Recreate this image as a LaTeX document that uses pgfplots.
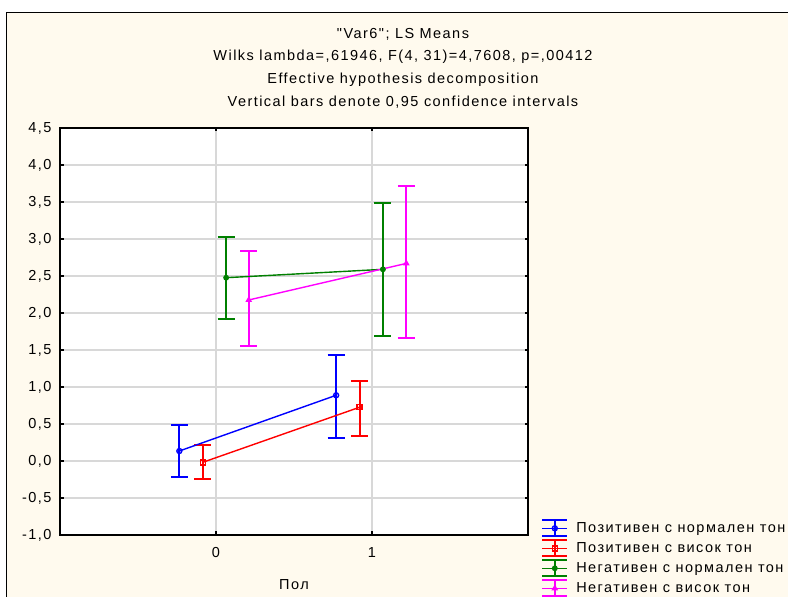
\documentclass[border=0pt]{standalone}
\usepackage{pgfplots}
\pgfplotsset{compat=1.18}
\usepackage{fontspec}
\setmainfont{Liberation Sans}
\newfontfamily\lsp[LetterSpace=10]{Liberation Sans}
\definecolor{bgc}{RGB}{255,250,238}
\definecolor{gridc}{RGB}{216,216,216}
\definecolor{dgreen}{RGB}{0,128,0}
\definecolor{mag}{RGB}{255,0,255}
\newcommand{\tf}{\lsp\fontsize{14.5}{16}\selectfont}

% means
\pgfplotstableread{
x y
-0.235 0.135
0.77 0.888
}\blue
\pgfplotstableread{
x y
-0.085 -0.018
0.92 0.726
}\red
\pgfplotstableread{
x y
0.065 2.477
1.07 2.590
}\green
\pgfplotstableread{
x y
0.21 2.176
1.22 2.670
}\magenta
% 0.95 confidence intervals: whisker and caps (cap half-width 0.0545)
\pgfplotstableread{
x y
-0.235 -0.216
-0.235 0.490
nan nan
-0.2895 -0.216
-0.1805 -0.216
nan nan
-0.2895 0.490
-0.1805 0.490
nan nan
0.77 0.315
0.77 1.432
nan nan
0.7155 0.315
0.8245 0.315
nan nan
0.7155 1.432
0.8245 1.432
}\blueci
\pgfplotstableread{
x y
-0.085 -0.243
-0.085 0.212
nan nan
-0.1395 -0.243
-0.0305 -0.243
nan nan
-0.1395 0.212
-0.0305 0.212
nan nan
0.92 0.342
0.92 1.077
nan nan
0.8655 0.342
0.9745 0.342
nan nan
0.8655 1.077
0.9745 1.077
}\redci
\pgfplotstableread{
x y
0.065 1.915
0.065 3.027
nan nan
0.0105 1.915
0.1195 1.915
nan nan
0.0105 3.027
0.1195 3.027
nan nan
1.07 1.693
1.07 3.490
nan nan
1.0155 1.693
1.1245 1.693
nan nan
1.0155 3.490
1.1245 3.490
}\greenci
\pgfplotstableread{
x y
0.21 1.558
0.21 2.833
nan nan
0.1555 1.558
0.2645 1.558
nan nan
0.1555 2.833
0.2645 2.833
nan nan
1.22 1.662
1.22 3.720
nan nan
1.1655 1.662
1.2745 1.662
nan nan
1.1655 3.720
1.2745 3.720
}\magentaci

\begin{document}
\begin{tikzpicture}
\useasboundingbox (0pt,0pt) rectangle (788pt,597pt);
\fill[white] (0pt,0pt) rectangle (788pt,597pt);
\fill[bgc] (6pt,0pt) rectangle (790pt,585pt);
\draw[black, line width=1.4pt] (6.7pt,-2pt) -- (6.7pt,584.3pt) -- (790pt,584.3pt);
\begin{scope}[every node/.style={font=\tf, inner sep=0pt}]
\node at (403pt,563pt) {"Var6"; LS Means};
\node at (403pt,540pt) {Wilks lambda=,61946, F(4, 31)=4,7608, p=,00412};
\node at (403pt,517pt) {Effective hypothesis decomposition};
\node at (403pt,494.5pt) {Vertical bars denote 0,95 confidence intervals};
\end{scope}
\begin{axis}[
  at={(60pt,62pt)}, anchor=south west,
  scale only axis, width=468pt, height=407pt,
  xmin=-1, xmax=2, ymin=-1, ymax=4.5,
  xtick={0,1}, ytick={-1,-0.5,...,4.5},
  axis background/.style={fill=white},
  axis line style={line width=1.4pt},
  grid=major, major grid style={gridc, line width=1.1pt},
  tick style={black, line width=1.2pt},
  major tick length=3.5pt,
  tick align=inside,
  unbounded coords=jump,
  /pgf/number format/assume math mode=true,
  /pgf/number format/.cd, use comma, fixed, fixed zerofill, precision=1,
  /pgfplots/.cd,
  yticklabel style={font=\tf, xshift=-5pt},
  xticklabel style={font=\tf, yshift=-9pt, /pgf/number format/precision=0, /pgf/number format/fixed zerofill=false},
  xlabel={Пол}, xlabel style={font=\tf, yshift=-15pt},
  legend style={at={(axis description cs:1.028,0.039)}, anchor=north west, draw=none, fill=none,
    font=\tf, inner sep=0pt, row sep=2pt,
    /tikz/every odd column/.append style={column sep=6pt},
    cells={anchor=west}},
  legend cell align=left,
  legend image code/.code={
    \draw[#1, mark=none, line width=1.4pt] (0pt,0pt) -- (25pt,0pt);
    \draw[#1, mark=none, line width=2pt] (12.5pt,-8pt) -- (12.5pt,8pt);
    \draw[#1, mark=none, line width=2pt] (0pt,-8pt) -- (25pt,-8pt) (0pt,8pt) -- (25pt,8pt);
    \draw[#1, only marks] plot coordinates {(12.5pt,0pt)};
  },
]
\addplot[blue, line width=2pt, forget plot] table[x=x, y=y] {\blueci};
\addplot[red, line width=2pt, forget plot] table[x=x, y=y] {\redci};
\addplot[dgreen, line width=2pt, forget plot] table[x=x, y=y] {\greenci};
\addplot[mag, line width=2pt, forget plot] table[x=x, y=y] {\magentaci};
\addplot[blue, line width=1.4pt, mark=o, mark size=2.5pt, mark options={solid}] table[x=x, y=y] {\blue};
\addlegendentry{Позитивен с нормален тон}
\addplot[red, line width=1.4pt, mark=square, mark size=2.5pt, mark options={solid}] table[x=x, y=y] {\red};
\addlegendentry{Позитивен с висок тон}
\addplot[dgreen, line width=1.4pt, mark=*, mark size=2.2pt, mark options={solid}] table[x=x, y=y] {\green};
\addlegendentry{Негативен с нормален тон}
\addplot[mag, line width=1.4pt, mark=triangle*, mark size=2.5pt, mark options={solid}] table[x=x, y=y] {\magenta};
\addlegendentry{Негативен с висок тон}
\end{axis}
\end{tikzpicture}
\end{document}
